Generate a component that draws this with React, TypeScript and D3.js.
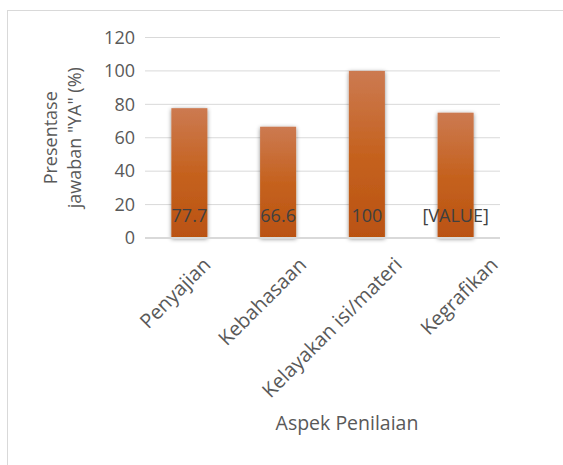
import React from "react";
import * as d3 from "d3";

const categories = ["Penyajian", "Kebahasaan", "Kelayakan isi/materi", "Kegrafikan"];
const values = [77.7, 66.6, 100, 75];
const valueLabels = ["77.7", "66.6", "100", "[VALUE]"];
const yTicks = [0, 20, 40, 60, 80, 100, 120];
const yTitleLines = ["Presentase", "jawaban \"YA\" (%)"];
const xTitle = "Aspek Penilaian";

const W = 563;
const H = 465;
const plot = { left: 145, right: 500, top: 37.5, bottom: 238 };
const FONT = "'Open Sans', sans-serif";

export default function App() {
  const x = d3
    .scaleBand<string>()
    .domain(categories)
    .range([plot.left, plot.right])
    .paddingInner(0.594)
    .paddingOuter(0.297);
  const xCenter = d3.scaleBand<string>().domain(categories).range([plot.left, plot.right]);
  const labelPos = d3.scaleBand<string>().domain(categories).range([160, 543]);
  const y = d3.scaleLinear().domain([0, 120]).range([plot.bottom, plot.top]);

  return (
    <svg
      width={W}
      height={H}
      style={{ position: "absolute", left: 0, top: 0, background: "#fff" }}
      fontFamily={FONT}
    >
      <defs>
        <linearGradient id="barGrad" x1="0" y1="0" x2="0" y2="1">
          <stop offset="0%" stopColor="#cc7a51" />
          <stop offset="50%" stopColor="#c5621f" />
          <stop offset="100%" stopColor="#ba5211" />
        </linearGradient>
        <filter id="shadow" x="-30%" y="-10%" width="160%" height="120%">
          <feDropShadow dx="0" dy="1" stdDeviation="2.2" floodColor="#000" floodOpacity="0.45" />
        </filter>
      </defs>
      <rect x={7.5} y={10.5} width={W} height={H} fill="#fff" stroke="#d9d9d9" strokeWidth={1} />
      {yTicks.map((t) => (
        <g key={t}>
          {t !== 0 && (
            <line x1={plot.left} x2={plot.right} y1={y(t)} y2={y(t)} stroke="#d9d9d9" strokeWidth={1} />
          )}
          <text
            x={135}
            y={y(t)}
            dy="0.35em"
            textAnchor="end"
            fontSize={18}
            fill="#595959"
          >
            {t}
          </text>
        </g>
      ))}
      {categories.map((c, i) => (
        <rect
          key={c}
          x={x(c)}
          y={y(values[i])}
          width={x.bandwidth()}
          height={y(0) - y(values[i])}
          fill="url(#barGrad)"
          filter="url(#shadow)"
        />
      ))}
      <line x1={plot.left} x2={plot.right} y1={y(0)} y2={y(0)} stroke="#d9d9d9" strokeWidth={2} />
      {categories.map((c, i) => (
        <text
          key={c}
          x={(xCenter(c) as number) + xCenter.bandwidth() / 2}
          y={221.5}
          textAnchor="middle"
          fontSize={18}
          fill="#404040"
        >
          {valueLabels[i]}
        </text>
      ))}
      {categories.map((c) => {
        const ax = (labelPos(c) as number) + labelPos.bandwidth() / 2 + 4;
        const ay = 266;
        return (
          <text
            key={c}
            transform={`translate(${ax},${ay}) rotate(-45)`}
            textAnchor="end"
            fontSize={20}
            fill="#595959"
          >
            {c}
          </text>
        );
      })}
      <text x={347} y={430} textAnchor="middle" fontSize={19.5} fill="#595959">
        {xTitle}
      </text>
      <g transform={`translate(57,${(plot.top + plot.bottom) / 2}) rotate(-90)`}>
        {yTitleLines.map((l, i) => (
          <text key={i} x={0} y={i * 24} textAnchor="middle" fontSize={18} fill="#595959">
            {l}
          </text>
        ))}
      </g>
    </svg>
  );
}
